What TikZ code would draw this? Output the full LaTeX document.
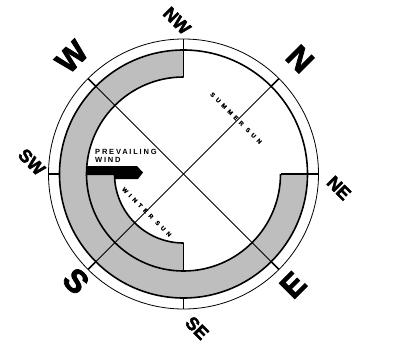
\documentclass[tikz,border=0pt]{standalone}
\usepackage{fontspec}
\setmainfont{Liberation Sans}
\newfontfamily\heavy[FakeBold=2.5]{Liberation Sans Bold}
\newfontfamily\smallsp[LetterSpace=60,FakeBold=0.5]{Liberation Sans Bold}
\newfontfamily\windsp[LetterSpace=24]{Liberation Sans Bold}
\definecolor{bandgray}{RGB}{190,190,190}
\tikzset{
  thinline/.style={line width=0.8pt},
  thickline/.style={line width=1.6pt},
  bigletter/.style={inner sep=0pt, font=\heavy\fontsize{32}{32}\selectfont},
  smallletter/.style={inner sep=0pt, font=\heavy\fontsize{18}{18}\selectfont, rotate=-45},
  suntext/.style={inner sep=0pt, font=\smallsp\fontsize{6}{6}\selectfont, rotate=-45},
  windtext/.style={inner sep=0pt, font=\windsp\fontsize{7.5}{7.5}\selectfont, anchor=base west}
}
\begin{document}
\begin{tikzpicture}[x=1pt,y=1pt]
\useasboundingbox (-183.5,-175) rectangle (219.5,174);
% gray bands
\fill[bandgray] (90:124) arc[start angle=90,end angle=360,radius=124] -- (0:97) arc[start angle=360,end angle=90,radius=97] -- cycle;
\fill[bandgray] (180:97) arc[start angle=180,end angle=270,radius=97] -- (270:69) arc[start angle=270,end angle=180,radius=69] -- cycle;
% circles
\draw[thinline] (0,0) circle (135);
\draw[thickline] (0,0) circle (124);
\draw[thickline] (90:97) arc[start angle=90,end angle=360,radius=97];
\draw[thickline] (180:69) arc[start angle=180,end angle=270,radius=69];
% band ends and ticks
\draw[thickline] (90:97) -- (90:135);
\draw[thickline] (0:97) -- (0:135);
\draw[thickline] (180:124) -- (180:135);
\draw[thickline] (270:124) -- (270:135);
\draw[thickline] (180:69) -- (180:97);
\draw[thickline] (270:69) -- (270:97);
% diagonals
\draw[thinline] (45:135) -- (225:135);
\draw[thinline] (135:135) -- (315:135);
\foreach \a in {45,135,225,315} \draw[thickline] (\a:124) -- (\a:135);
% prevailing wind arrow
\fill[black] (-97,8) -- (-46.5,8) -- (-40.5,1.5) -- (-45.5,-5) -- (-69,-5) -- (-69,-1) -- (-97,-1) -- cycle;
% texts
\node[windtext] (prev) at (-88.5,19.5) {PREVAILING};
\node[windtext] (wind) at (-88.5,11.3) {WIND};
\node[suntext] (summer) at (52.5,56) {SUMMER SUN};
\node[suntext] (winter) at (-36.8,-38) {WINTER SUN};
% big letters
\node[bigletter, rotate=-45] (N) at (116.5,115) {N};
\node[bigletter, rotate=45] (W) at (-111.8,117.3) {W};
\node[bigletter, rotate=-45] (S) at (-107.5,-107) {S};
\node[bigletter, rotate=45] (E) at (109.5,-111) {E};
% small letters
\node[smallletter] (NW) at (-6.5,153.3) {NW};
\node[smallletter] (SW) at (-151.8,12) {SW};
\node[smallletter] (NE) at (155.5,-14) {NE};
\node[smallletter] (SE) at (13.5,-154) {SE};
\end{tikzpicture}
\end{document}
